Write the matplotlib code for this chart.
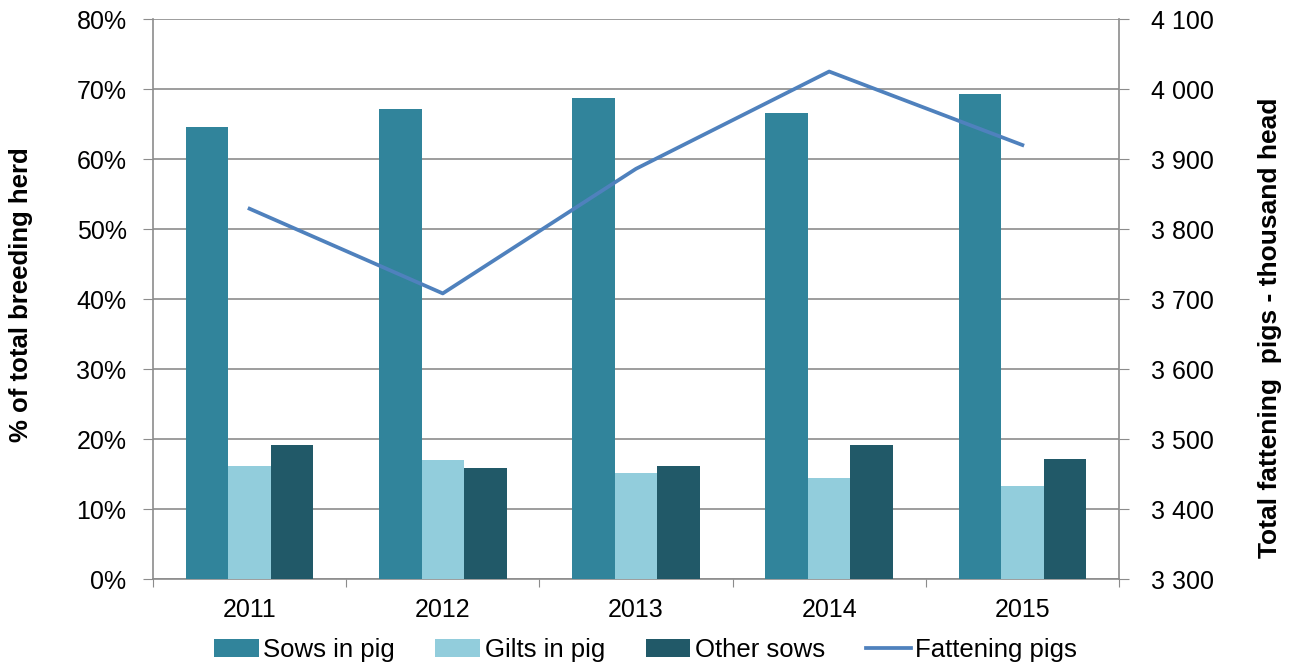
import matplotlib
matplotlib.use("Agg")
import matplotlib.pyplot as plt
import numpy as np
from matplotlib.ticker import FuncFormatter

years = ["2011", "2012", "2013", "2014", "2015"]
sows_in_pig = [64.6, 67.2, 68.7, 66.6, 69.3]
gilts_in_pig = [16.2, 17.0, 15.2, 14.4, 13.3]
other_sows = [19.1, 15.8, 16.2, 19.1, 17.2]
fattening_pigs = [3829, 3708, 3886, 4025, 3920]

plt.rcParams['font.family'] = ['Liberation Sans', 'DejaVu Sans']

fig = plt.figure(figsize=(12.93, 6.65), dpi=100)
ax = fig.add_axes([0.1183, 0.1293, 0.8654 - 0.1183, 0.9714 - 0.1293])
ax2 = ax.twinx()

x = np.arange(len(years))
w = 0.22
ax.bar(x - w, sows_in_pig, w, color='#31849B', label='Sows in pig', zorder=3)
ax.bar(x, gilts_in_pig, w, color='#92CDDC', label='Gilts in pig', zorder=3)
ax.bar(x + w, other_sows, w, color='#215968', label='Other sows', zorder=3)
ax2.plot(x, fattening_pigs, color='#4F81BD', lw=2.7, label='Fattening pigs', zorder=4)

ax.set_xlim(-0.5, 4.5)
ax.set_ylim(0, 80)
ax.set_yticks(np.arange(0, 81, 10))
ax.yaxis.set_major_formatter(FuncFormatter(lambda v, p: f"{int(v)}%"))
ax2.set_ylim(3300, 4100)
ax2.set_yticks(np.arange(3300, 4101, 100))
ax2.yaxis.set_major_formatter(FuncFormatter(lambda v, p: f"{int(v)//1000} {int(v)%1000:03d}"))

ax.grid(axis='y', color='#8C8C8C', lw=1.2, zorder=0)
ax.set_axisbelow(True)

ax.set_xticks(np.arange(-0.5, 4.6, 1))
ax.set_xticklabels([])
ax.set_xticks(x, minor=True)
ax.set_xticklabels(years, minor=True)
ax.tick_params(axis='x', which='major', length=6, color='#8C8C8C', direction='out')
ax.tick_params(axis='x', which='minor', length=0, labelsize=18, pad=14)
ax.tick_params(axis='y', length=7, color='#8C8C8C', labelsize=18, pad=12)
ax2.tick_params(axis='y', length=7, color='#8C8C8C', labelsize=18, pad=16)

for a in (ax, ax2):
    a.spines['top'].set_visible(False)
    for s in ['left', 'right', 'bottom']:
        a.spines[s].set_color('#8C8C8C')
        a.spines[s].set_linewidth(1.2)
ax.spines['right'].set_visible(False)
ax2.spines['left'].set_visible(False)
ax2.spines['bottom'].set_visible(False)

ax.set_ylabel('% of total breeding herd', fontsize=18.5, fontweight='bold')
ax2.set_ylabel('Total fattening  pigs - thousand head', fontsize=19, fontweight='bold')
ax.yaxis.set_label_coords(-0.1242, 0.507)
ax2.yaxis.set_label_coords(1.1439, 0.448)

h1, l1 = ax.get_legend_handles_labels()
h2, l2 = ax2.get_legend_handles_labels()
fig.legend(h1 + h2, l1 + l2, loc='center', bbox_to_anchor=(0.499, 0.022), ncol=4,
           frameon=False, fontsize=18.5, handlelength=1.75, handletextpad=0.17,
           columnspacing=1.58, borderpad=0.2)

fig.savefig('out.png', dpi=100)
